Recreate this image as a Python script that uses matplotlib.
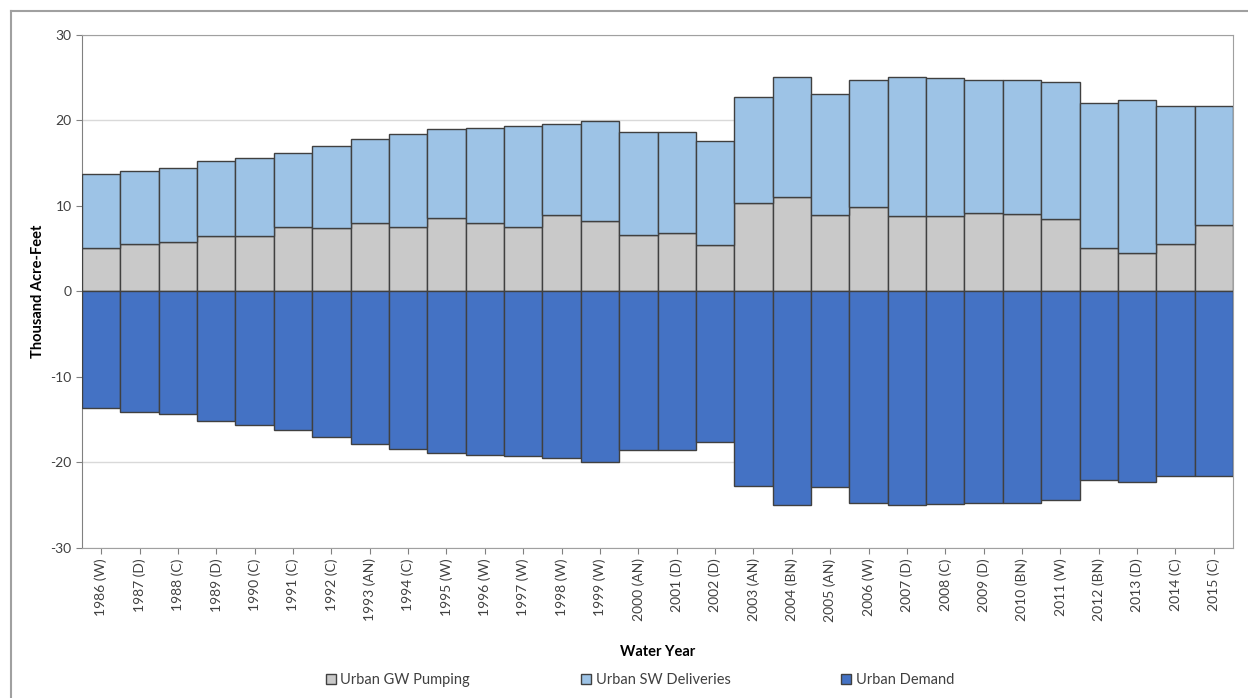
import matplotlib.pyplot as plt
from matplotlib.lines import Line2D
import numpy as np

plt.rcParams['font.family'] = ['Lato', 'DejaVu Sans']
plt.rcParams['axes.unicode_minus'] = False

# water years with year type
years = ['1986 (W)', '1987 (D)', '1988 (C)', '1989 (D)', '1990 (C)', '1991 (C)',
         '1992 (C)', '1993 (AN)', '1994 (C)', '1995 (W)', '1996 (W)', '1997 (W)',
         '1998 (W)', '1999 (W)', '2000 (AN)', '2001 (D)', '2002 (D)', '2003 (AN)',
         '2004 (BN)', '2005 (AN)', '2006 (W)', '2007 (D)', '2008 (C)', '2009 (D)',
         '2010 (BN)', '2011 (W)', '2012 (BN)', '2013 (D)', '2014 (C)', '2015 (C)']

# thousand acre-feet
gw_pumping = [5.0, 5.5, 5.8, 6.4, 6.4, 7.5, 7.4, 8.0, 7.5, 8.6, 8.0, 7.5,
              8.9, 8.2, 6.6, 6.8, 5.4, 10.3, 11.0, 8.9, 9.8, 8.8,
              8.8, 9.2, 9.0, 8.4, 5.0, 4.5, 5.5, 7.7]
sw_deliveries = [8.7, 8.6, 8.6, 8.8, 9.2, 8.7, 9.6, 9.8, 10.9, 10.3, 11.1, 11.8,
                 10.6, 11.7, 12.0, 11.8, 12.2, 12.4, 14.0, 14.1, 14.9, 16.2,
                 16.1, 15.5, 15.7, 16.0, 17.0, 17.8, 16.1, 13.9]
urban_demand = [-13.7, -14.1, -14.4, -15.2, -15.6, -16.2, -17.0, -17.8, -18.4, -18.9,
                -19.1, -19.3, -19.5, -19.9, -18.6, -18.6, -17.6, -22.7, -25.0, -22.9,
                -24.7, -25.0, -24.9, -24.7, -24.7, -24.4, -22.0, -22.3, -21.6, -21.6]

c_gw = '#C9C9C9'
c_sw = '#9DC3E6'
c_dem = '#4472C4'
edge = '#404040'

fig = plt.figure(figsize=(12.48, 6.98), dpi=100)
ax = fig.add_axes([82 / 1248, 1 - 548 / 698, (1233 - 82) / 1248, (548 - 34.5) / 698])

x = np.arange(len(years))
ax.bar(x, gw_pumping, width=1.0, color=c_gw, edgecolor=edge, linewidth=1.0,
       label='Urban GW Pumping', zorder=3)
ax.bar(x, sw_deliveries, width=1.0, bottom=gw_pumping, color=c_sw, edgecolor=edge,
       linewidth=1.0, label='Urban SW Deliveries', zorder=3)
ax.bar(x, urban_demand, width=1.0, color=c_dem, edgecolor=edge, linewidth=1.0,
       label='Urban Demand', zorder=3)

ax.set_xlim(-0.5, len(years) - 0.5)
ax.set_ylim(-30, 30)
ax.set_yticks(range(-30, 31, 10))
ax.set_xticks(x)
ax.set_xticklabels(years, rotation=90, fontsize=10, color='#404040')
ax.tick_params(axis='y', labelsize=10, labelcolor='#404040', length=4, color='#808080')
ax.tick_params(axis='x', length=4, color='#808080')
ax.grid(axis='y', color='#D9D9D9', linewidth=1.0, zorder=0)
for s in ['top', 'right', 'bottom']:
    ax.spines[s].set_color('#A0A0A0')
ax.spines['left'].set_color('#808080')

ax.set_ylabel('Thousand Acre-Feet', fontsize=10.5, fontweight='bold', labelpad=4)
ax.set_xlabel('Water Year', fontsize=10.5, fontweight='bold', labelpad=17)

fig.legend(loc='center', bbox_to_anchor=(640 / 1248, 1 - 680 / 698), ncol=3,
           frameon=False, fontsize=10.5, handlelength=0.7, handleheight=0.7,
           handletextpad=0.3, columnspacing=7.6, labelcolor='#404040')

# outer chart frame
fig.add_artist(Line2D([11 / 1248, 1.0], [1 - 11 / 698, 1 - 11 / 698],
                      transform=fig.transFigure, color='#A0A0A0', linewidth=1.5))
fig.add_artist(Line2D([11 / 1248, 11 / 1248], [0.0, 1 - 11 / 698],
                      transform=fig.transFigure, color='#A0A0A0', linewidth=1.5))

fig.savefig('out.png', dpi=100)
